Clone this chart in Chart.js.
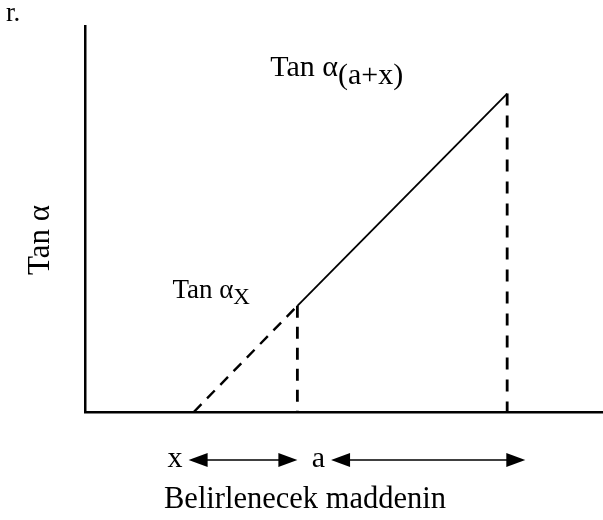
<!DOCTYPE html>
<html>
<head>
<meta charset="utf-8">
<script src="https://cdn.jsdelivr.net/npm/chart.js@4/dist/chart.umd.min.js"></script>
<style>
  html, body { margin: 0; padding: 0; background: #fff; }
  canvas { display: block; }
</style>
</head>
<body>
<canvas id="chart" width="603" height="520"></canvas>
<script>
// points of the titration-like curve (arbitrary units, 0..10)
const lineX = [2.1, 4.1, 8.15];
const lineY = [0, 2.75, 8.25];
// range arrows under the axis: [from, to]
const rangeLabels = ['x', 'a'];
const rangeFrom = [2.0, 4.75];
const rangeTo = [4.1, 8.5];
const pointLabels = ['Tan α', 'Tan α'];
const pointSubs = ['X', '(a+x)'];
const yTitle = 'Tan α';
const xTitle = 'Belirlenecek maddenin';
const cornerText = 'r.';

const SERIF = '"Liberation Serif", "DejaVu Serif", serif';

const pt = (i) => ({ x: lineX[i], y: lineY[i] });

const textPlugin = {
  id: 'texts',
  afterDraw(chart) {
    const ctx = chart.ctx;
    const xs = chart.scales.x, ys = chart.scales.y;
    ctx.save();
    ctx.fillStyle = '#000';
    ctx.strokeStyle = '#000';
    ctx.textBaseline = 'alphabetic';

    // corner mark
    ctx.font = '27px ' + SERIF;
    ctx.textAlign = 'left';
    ctx.fillText(cornerText, 6, 21);

    // labels at points
    const anchors = [
      { px: xs.getPixelForValue(lineX[1]), py: ys.getPixelForValue(lineY[1]), dx: -125, dy: -8, size: 27, subSize: 23, subDy: 6 },
      { px: xs.getPixelForValue(lineX[2]), py: ys.getPixelForValue(lineY[2]), dx: -237, dy: -18, size: 30, subSize: 30, subDy: 8 }
    ];
    anchors.forEach((a, i) => {
      const x = a.px + a.dx, y = a.py + a.dy;
      ctx.font = a.size + 'px ' + SERIF;
      ctx.fillText(pointLabels[i], x, y);
      const w = ctx.measureText(pointLabels[i]).width;
      ctx.font = a.subSize + 'px ' + SERIF;
      ctx.fillText(pointSubs[i], x + w, y + a.subDy);
    });

    // y title
    ctx.save();
    ctx.translate(49, 240);
    ctx.rotate(-Math.PI / 2);
    ctx.textAlign = 'center';
    ctx.font = '31px ' + SERIF;
    ctx.fillText(yTitle, 0, 0);
    ctx.restore();

    // range arrows
    const ay = 460;
    rangeLabels.forEach((lab, i) => {
      const x1 = xs.getPixelForValue(rangeFrom[i]);
      const x2 = xs.getPixelForValue(rangeTo[i]);
      ctx.font = '30px ' + SERIF;
      ctx.textAlign = 'right';
      ctx.fillText(lab, x1 - 6, ay + 7);
      ctx.lineWidth = 1.6;
      ctx.beginPath();
      ctx.moveTo(x1 + 10, ay);
      ctx.lineTo(x2 - 10, ay);
      ctx.stroke();
      [[x1, 1], [x2, -1]].forEach(([tx, dir]) => {
        ctx.beginPath();
        ctx.moveTo(tx, ay);
        ctx.lineTo(tx + dir * 19, ay - 7);
        ctx.lineTo(tx + dir * 19, ay + 7);
        ctx.closePath();
        ctx.fill();
      });
    });

    // x title
    ctx.font = '30.5px ' + SERIF;
    ctx.textAlign = 'left';
    ctx.fillText(xTitle, 164, 508);
    ctx.restore();
  }
};

new Chart(document.getElementById('chart'), {
  type: 'scatter',
  data: {
    datasets: [
      { data: [pt(0), pt(1)], borderDash: [11, 8], borderWidth: 2.4 },
      { data: [pt(1), pt(2)], borderWidth: 1.8 },
      { data: [pt(1), { x: lineX[1], y: 0 }], borderDash: [12, 9], borderWidth: 2.8 },
      { data: [pt(2), { x: lineX[2], y: 0 }], borderDash: [12, 10], borderWidth: 2.8 }
    ].map(d => Object.assign({
      showLine: true,
      borderColor: '#000',
      backgroundColor: '#000',
      pointRadius: 0,
      fill: false,
      tension: 0
    }, d))
  },
  options: {
    responsive: false,
    devicePixelRatio: 1,
    animation: false,
    events: [],
    layout: { padding: { top: 26, right: 0, left: 0, bottom: 0 } },
    plugins: { legend: { display: false }, tooltip: { enabled: false } },
    scales: {
      x: {
        type: 'linear', min: 0, max: 10,
        grid: { display: false, drawTicks: false },
        ticks: { display: false },
        border: { display: true, color: '#000', width: 2.5 },
        afterFit(s) { s.height = 108; }
      },
      y: {
        type: 'linear', min: 0, max: 10,
        grid: { display: false, drawTicks: false },
        ticks: { display: false },
        border: { display: true, color: '#000', width: 2.5 },
        afterFit(s) { s.width = 85; }
      }
    }
  },
  plugins: [textPlugin]
});
</script>
</body>
</html>
